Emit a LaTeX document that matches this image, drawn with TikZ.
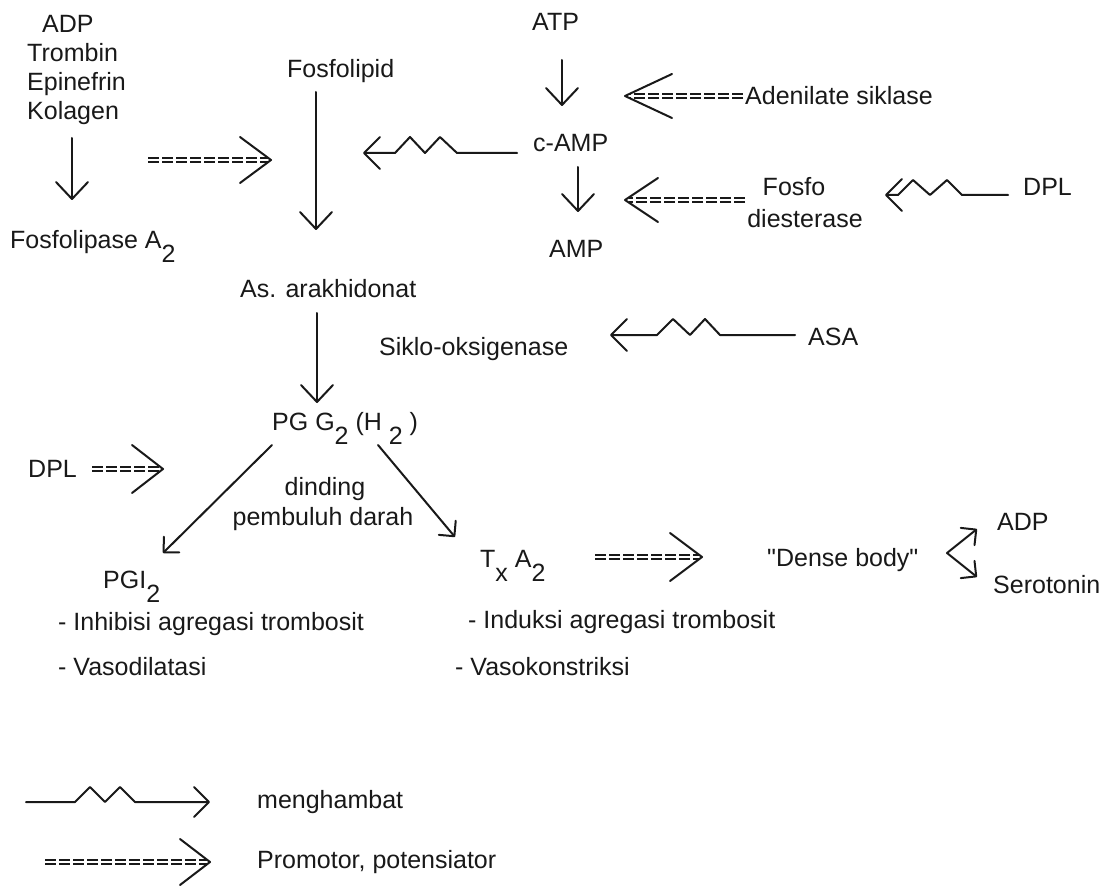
\documentclass[tikz,border=0pt]{standalone}
\usepackage{fontspec}
\setmainfont{Liberation Sans}[Ligatures=TeXOff]
\usetikzlibrary{arrows.meta}
\newcommand\dn[1]{\raisebox{-14pt}{#1}}
\begin{document}
\begin{tikzpicture}[x=1pt,y=-1pt,
  txt/.style={font=\fontsize{25}{30}\selectfont, inner sep=0pt, anchor=base west, text=black!90},
  ln/.style={line width=2pt, line cap=round, line join=round, draw=black!90},
  pa/.style={ln, -{Straight Barb[length=17pt,width=32pt,round]}},
  da/.style={ln, -{Straight Barb[length=11pt,width=22pt,round]}},
  za/.style={ln, -{Straight Barb[length=16pt,width=32pt,round]}},
  promo/.style={draw=black!90, line width=1.7pt, double distance=2.6pt, dash pattern=on 11pt off 3pt},
]
\fill[white] (0,0) rectangle (1106,896);
\useasboundingbox (0,0) rectangle (1106,896);

% ---------- text nodes ----------
\node[txt] (adp)   at (42,33)   {ADP};
\node[txt] (trom)  at (27,62)   {Trombin};
\node[txt] (epi)   at (27,91)   {Epinefrin};
\node[txt] (kol)   at (27,120)  {Kolagen};
\node[txt] (fla)   at (10,248)  {Fosfolipase A\dn{2}};
\node[txt] (fl)    at (287,78)  {Fosfolipid};
\node[txt] (atp)   at (532,31)  {ATP};
\node[txt] (camp)  at (533,152) {c-AMP};
\node[txt] (amp)   at (549,258) {AMP};
\node[txt] (ads)   at (745,105) {Adenilate siklase};
\node[txt,anchor=base] (pde1) at (794,196) {Fosfo};
\node[txt,anchor=base] (pde2) at (805,228) {diesterase};
\node[txt] (dplr)  at (1023,196) {DPL};
\node[txt] (ara)   at (240,297) {As. arakhidonat};
\node[txt] (siklo) at (379,355) {Siklo-oksigenase};
\node[txt] (asa)   at (808,345) {ASA};
\node[txt] (pgg)   at (272,430) {PG G\dn{2} (H \dn{2} )};
\node[txt] (dpll)  at (28,477)  {DPL};
\node[txt,anchor=base] (dind) at (325,495) {dinding};
\node[txt,anchor=base] (pemb) at (323,525) {pembuluh darah};
\node[txt] (pgi)   at (103,588) {PGI\dn{2}};
\node[txt] (inh)   at (58,630)  {- Inhibisi agregasi trombosit};
\node[txt] (vdl)   at (58,675)  {- Vasodilatasi};
\node[txt] (txa)   at (480,567) {T\dn{x} A\dn{2}};
\node[txt] (ind)   at (468,628) {- Induksi agregasi trombosit};
\node[txt] (vko)   at (455,675) {- Vasokonstriksi};
\node[txt] (dense) at (767,566) {"Dense body"};
\node[txt] (adpb)  at (997,530) {ADP};
\node[txt] (sero)  at (993,593) {Serotonin};
\node[txt] (mh)    at (257,808) {menghambat};
\node[txt] (pp)    at (257,868) {Promotor, potensiator};

% ---------- coordinates ----------
\coordinate (kolS) at (72,138);   \coordinate (flaN) at (72,200);
\coordinate (flS)  at (316,92);   \coordinate (araN) at (316,230);
\coordinate (araS) at (317,313);  \coordinate (pggN) at (317,403);
\coordinate (atpS) at (562,60);   \coordinate (campN) at (562,106);
\coordinate (campS) at (578,167); \coordinate (ampN) at (578,212);
\coordinate (pggL) at (272,445);  \coordinate (pgiN) at (163,553);
\coordinate (pggR) at (378,445);  \coordinate (txaN) at (455,537);

% promotor ends
\coordinate (p1s) at (148,160);  \coordinate (p1t) at (271,160);
\coordinate (p2s) at (743,96);   \coordinate (p2t) at (625,96);
\coordinate (p3s) at (745,200);  \coordinate (p3t) at (625,200);
\coordinate (p4s) at (92,469);   \coordinate (p4t) at (163,469);
\coordinate (p5s) at (595,557);  \coordinate (p5t) at (702,557);
\coordinate (p6s) at (45,862);   \coordinate (p6t) at (210,862);

% zigzag ends
\coordinate (z1s) at (517,153);  \coordinate (z1t) at (363,153);
\coordinate (z2s) at (1008,195); \coordinate (z2t) at (885,195);
\coordinate (z3s) at (795,335);  \coordinate (z3t) at (610,335);
\coordinate (z4s) at (26,802);   \coordinate (z4t) at (210,802);

% dense body fork
\coordinate (dbA) at (977,529);  \coordinate (dbV) at (947,553);  \coordinate (dbS) at (977,577);

% ---------- plain arrows ----------
\draw[pa] (kolS) -- (flaN);
\draw[pa] (flS) -- (araN);
\draw[pa] (araS) -- (pggN);
\draw[pa] (atpS) -- (campN);
\draw[pa] (campS) -- (ampN);
\draw[da] (pggL) -- (pgiN);
\draw[da] (pggR) -- (txaN);
\draw[ln, {Straight Barb[length=11pt,width=22pt,round]}-{Straight Barb[length=11pt,width=22pt,round]}] (dbA) -- (dbV) -- (dbS);

% ---------- promotor arrows ----------
\draw[promo] (p1s) -- ([xshift=-3pt]p1t);
\draw[ln] ([shift={(-31,-23)}]p1t) -- (p1t) -- ([shift={(-31,23)}]p1t);
\draw[promo] (p2s) -- ([xshift=4pt]p2t);
\draw[ln] ([shift={(47,-22)}]p2t) -- (p2t) -- ([shift={(47,22)}]p2t);
\draw[promo] (p3s) -- ([xshift=4pt]p3t);
\draw[ln] ([shift={(33,-22)}]p3t) -- (p3t) -- ([shift={(33,22)}]p3t);
\draw[promo] (p4s) -- ([xshift=-3pt]p4t);
\draw[ln] ([shift={(-31,-24)}]p4t) -- (p4t) -- ([shift={(-31,24)}]p4t);
\draw[promo] (p5s) -- ([xshift=-3pt]p5t);
\draw[ln] ([shift={(-32,-24)}]p5t) -- (p5t) -- ([shift={(-32,24)}]p5t);
\draw[promo] (p6s) -- ([xshift=-3pt]p6t);
\draw[ln] ([shift={(-30,-23)}]p6t) -- (p6t) -- ([shift={(-30,23)}]p6t);

% ---------- inhibitor (zigzag) arrows ----------
\draw[za] (z1s) -- (457,153) -- (440,137) -- (425,153) -- (410,137) -- (395,153) -- (z1t);
\draw[za] (z2s) -- (962,195) -- (947,180) -- (930,195) -- (913,180) -- (898,195) -- (z2t);
\draw[za] (z3s) -- (720,335) -- (705,319) -- (690,335) -- (673,319) -- (657,335) -- (z3t);
\draw[ln, -{Straight Barb[length=15pt,width=30pt,round]}] (z4s) -- (75,802) -- (90,787) -- (105,802) -- (120,787) -- (135,802) -- (z4t);
\end{tikzpicture}
\end{document}
